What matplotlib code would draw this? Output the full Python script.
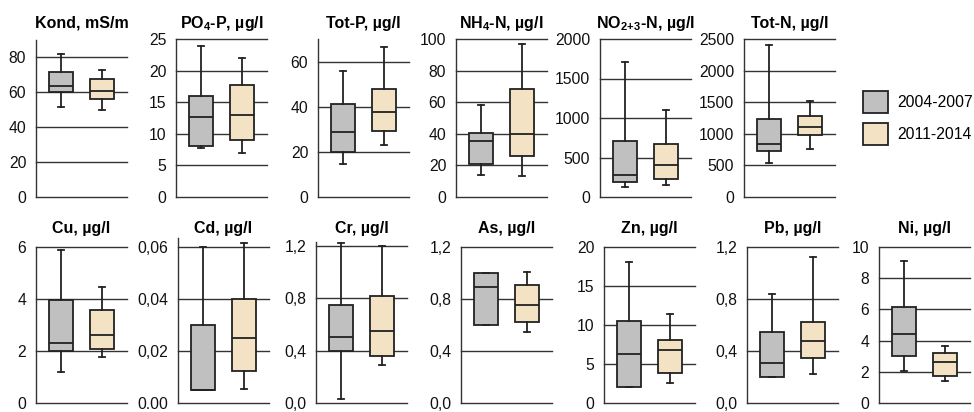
import matplotlib
matplotlib.use("Agg")
import matplotlib.pyplot as plt
from matplotlib.patches import Patch

plt.rcParams['font.family'] = ['Liberation Sans', 'DejaVu Sans']
plt.rcParams['mathtext.fontset'] = 'custom'
plt.rcParams['mathtext.rm'] = 'Liberation Sans:bold'
plt.rcParams['mathtext.it'] = 'Liberation Sans:bold'
plt.rcParams['mathtext.bf'] = 'Liberation Sans:bold'

periods = ['2004-2007', '2011-2014']
colors = ['#c0c0c0', '#f3e2c4']

# box stats per period: [whisker low, q1, median, q3, whisker high]
kond = [[51.6, 60.1, 63.9, 71.8, 81.7], [49.7, 55.9, 61.0, 67.7, 73.0]]
po4 = [[7.7, 8.1, 12.6, 16.0, 23.9], [6.95, 9.05, 13.0, 17.7, 22.05]]
totp = [[14.7, 20.1, 28.7, 41.2, 56.0], [23.1, 29.4, 37.6, 47.8, 66.3]]
nh4 = [[14.1, 21.0, 35.4, 40.4, 58.3], [13.5, 25.7, 40.0, 68.4, 96.8]]
no23 = [[126, 185, 282, 703, 1709], [156, 232, 400, 674, 1107]]
totn = [[540, 725, 841, 1229, 2408], [752, 975, 1111, 1281, 1524]]
cu = [[1.19, 2.0, 2.3, 3.98, 5.89], [1.78, 2.08, 2.6, 3.58, 4.46]]
cd = [[0.005, 0.005, 0.005, 0.030, 0.060], [0.0053, 0.0123, 0.025, 0.0401, 0.0614]]
cr = [[0.03, 0.40, 0.505, 0.752, 1.22], [0.29, 0.362, 0.548, 0.82, 1.20]]
as_ = [[0.60, 0.60, 0.895, 1.0, 1.0], [0.545, 0.622, 0.752, 0.91, 1.008]]
zn = [[2.0, 2.0, 6.24, 10.5, 18.1], [2.6, 3.88, 6.84, 8.06, 11.35]]
pb = [[0.20, 0.20, 0.305, 0.55, 0.838], [0.22, 0.35, 0.475, 0.622, 1.12]]
ni = [[2.03, 3.04, 4.43, 6.18, 9.13], [1.41, 1.75, 2.6, 3.2, 3.67]]

# (title, stats, ylim top, ticks, tick labels)
top_row = [
    ('Kond, mS/m', kond, 90, [0, 20, 40, 60, 80], ['0', '20', '40', '60', '80']),
    (r'PO$_4$-P, µg/l', po4, 25, [0, 5, 10, 15, 20, 25], ['0', '5', '10', '15', '20', '25']),
    ('Tot-P, µg/l', totp, 70, [0, 20, 40, 60], ['0', '20', '40', '60']),
    (r'NH$_4$-N, µg/l', nh4, 100, [0, 20, 40, 60, 80, 100], ['0', '20', '40', '60', '80', '100']),
    (r'NO$_{2\!+\!3}$-N, µg/l', no23, 2000, [0, 500, 1000, 1500, 2000], ['0', '500', '1000', '1500', '2000']),
    ('Tot-N, µg/l', totn, 2500, [0, 500, 1000, 1500, 2000, 2500], ['0', '500', '1000', '1500', '2000', '2500']),
]
bottom_row = [
    ('Cu, µg/l', cu, 6, [0, 2, 4, 6], ['0', '2', '4', '6']),
    ('Cd, µg/l', cd, 0.0634, [0, 0.02, 0.04, 0.06], ['0.00', '0,02', '0,04', '0,06']),
    ('Cr, µg/l', cr, 1.23, [0, 0.4, 0.8, 1.2], ['0,0', '0,4', '0,8', '1,2']),
    ('As, µg/l', as_, 1.2, [0, 0.4, 0.8, 1.2], ['0,0', '0,4', '0,8', '1,2']),
    ('Zn, µg/l', zn, 20, [0, 5, 10, 15, 20], ['0', '5', '10', '15', '20']),
    ('Pb, µg/l', pb, 1.2, [0, 0.4, 0.8, 1.2], ['0,0', '0,4', '0,8', '1,2']),
    ('Ni, µg/l', ni, 10, [0, 2, 4, 6, 8, 10], ['0', '2', '4', '6', '8', '10']),
]

W, H = 974, 412
fig = plt.figure(figsize=(W / 100, H / 100), dpi=100)

# layout in pixels
top_lefts = [36, 176, 318, 456, 600, 744]
top_heights = [157, 158, 158, 158, 158, 158]
bot_lefts = [36, 178, 316, 461, 604, 747, 879]
bot_heights = [156, 165, 161, 156, 156, 156, 156]
axw = 91


def draw_panel(left, base, height, spec, title_y):
    title, stats, ytop, ticks, labels = spec
    ax = fig.add_axes([left / W, 1 - base / H, axw / W, height / H])
    bxp_stats = []
    for s in stats:
        bxp_stats.append(dict(whislo=s[0], q1=s[1], med=s[2], q3=s[3], whishi=s[4], fliers=[]))
    res = ax.bxp(bxp_stats, positions=[1, 2], widths=0.58, patch_artist=True,
                 showfliers=False, capwidths=0.13,
                 boxprops=dict(edgecolor='#222222', linewidth=1.3),
                 medianprops=dict(color='#222222', linewidth=1.3),
                 whiskerprops=dict(color='#222222', linewidth=1.3),
                 capprops=dict(color='#222222', linewidth=1.3))
    for patch, c in zip(res['boxes'], colors):
        patch.set_facecolor(c)
    for k in ['boxes', 'medians', 'whiskers', 'caps']:
        for a in res[k]:
            a.set_zorder(3)
    ax.set_xlim(0.4, 2.6)
    ax.set_ylim(0, ytop)
    ax.set_yticks(ticks)
    ax.set_yticklabels(labels)
    ax.set_xticks([])
    ax.tick_params(axis='y', length=0, pad=7, labelsize=11.3, colors='#111111')
    ax.yaxis.grid(True, color='#333333', linewidth=1.0)
    # gridlines at the axis limits should not be cut in half
    for gl in ax.get_ygridlines():
        gl.set_clip_on(False)
    ax.set_axisbelow(True)
    for side in ['top', 'right', 'bottom']:
        ax.spines[side].set_visible(False)
    ax.spines['left'].set_color('#333333')
    ax.spines['left'].set_linewidth(1.0)
    ax.set_facecolor('none')
    fig.text((left + axw / 2) / W, 1 - title_y / H, title, ha='center', va='baseline',
             fontsize=11.5, fontweight='bold')
    return ax


for left, h, spec in zip(top_lefts, top_heights, top_row):
    draw_panel(left, 197, h, spec, 28)
for left, h, spec in zip(bot_lefts, bot_heights, bottom_row):
    draw_panel(left, 403, h, spec, 233)

handles = [Patch(facecolor=c, edgecolor='#222222', linewidth=1.3) for c in colors]
fig.legend(handles, periods, loc='upper left', bbox_to_anchor=(863 / W, 1 - 91 / H),
           frameon=False, fontsize=11.3, handlelength=1.6, handleheight=1.8,
           labelspacing=0.64, handletextpad=0.57, borderpad=0, borderaxespad=0)

fig.savefig('out.png', dpi=100)
